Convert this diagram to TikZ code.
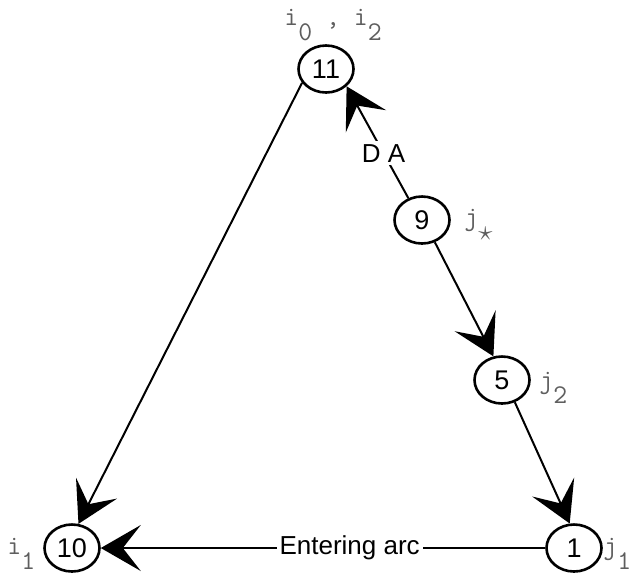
\documentclass[tikz,border=0pt]{standalone}
\usepackage{fontspec}
\setmainfont{Liberation Sans}
\usetikzlibrary{arrows.meta,shapes.geometric}
\definecolor{idxgrey}{HTML}{5E5E5E}
\newcommand{\lowidx}[1]{\raisebox{-0.56em}{#1}}
\tikzset{
  >={Stealth[length=20pt,width=23pt,inset=9pt]},
  vert/.style={draw,ellipse,line width=1.3pt,minimum width=27.5pt,minimum height=23.5pt,
               inner sep=0pt,font=\fontsize{13.5}{16}\selectfont},
  link/.style={->,line width=1pt},
  linklbl/.style={fill=white,inner sep=1.5pt,font=\fontsize{13}{16}\selectfont},
  idx/.style={text=idxgrey,inner sep=0pt,anchor=base west,font=\ttfamily\fontsize{13.5}{15}\selectfont},
}
\begin{document}
\begin{tikzpicture}[x=0.5pt,y=-0.5pt]
  \useasboundingbox (0,0) rectangle (631,575);

  % vertices of the cycle
  \node[vert] (n11) at (326,69) {11};
  \node[vert] (n9) at (422,220) {9};
  \node[vert] (n5) at (502,380) {5};
  \node[vert] (n1) at (574,548) {1};
  \node[vert] (n10) at (72,548) {10};

  % index labels
  \node[idx] (l11) at (284,25) {i\lowidx{0} , i\lowidx{2}};
  \node[idx] (l9) at (464,225) {j\lowidx{$\star$}};
  \node[idx] (l5) at (539,388) {j\lowidx{2}};
  \node[idx] (l1) at (603,554) {j\lowidx{1}};
  \node[idx] (l10) at (7,554) {i\lowidx{1}};

  % arcs
  \draw[link] (n9.122) -- node[linklbl,pos=0.4] (da) {D A} (n11.-40);
  \draw[link] (n9.-60) -- (n5.110);
  \draw[link] (n5.-60) -- (n1.100);
  \draw[link] (n11.210) -- (n10.75);
  \draw[link] (n1) -- node[linklbl,pos=0.44] (enter) {Entering arc} (n10);
\end{tikzpicture}
\end{document}
